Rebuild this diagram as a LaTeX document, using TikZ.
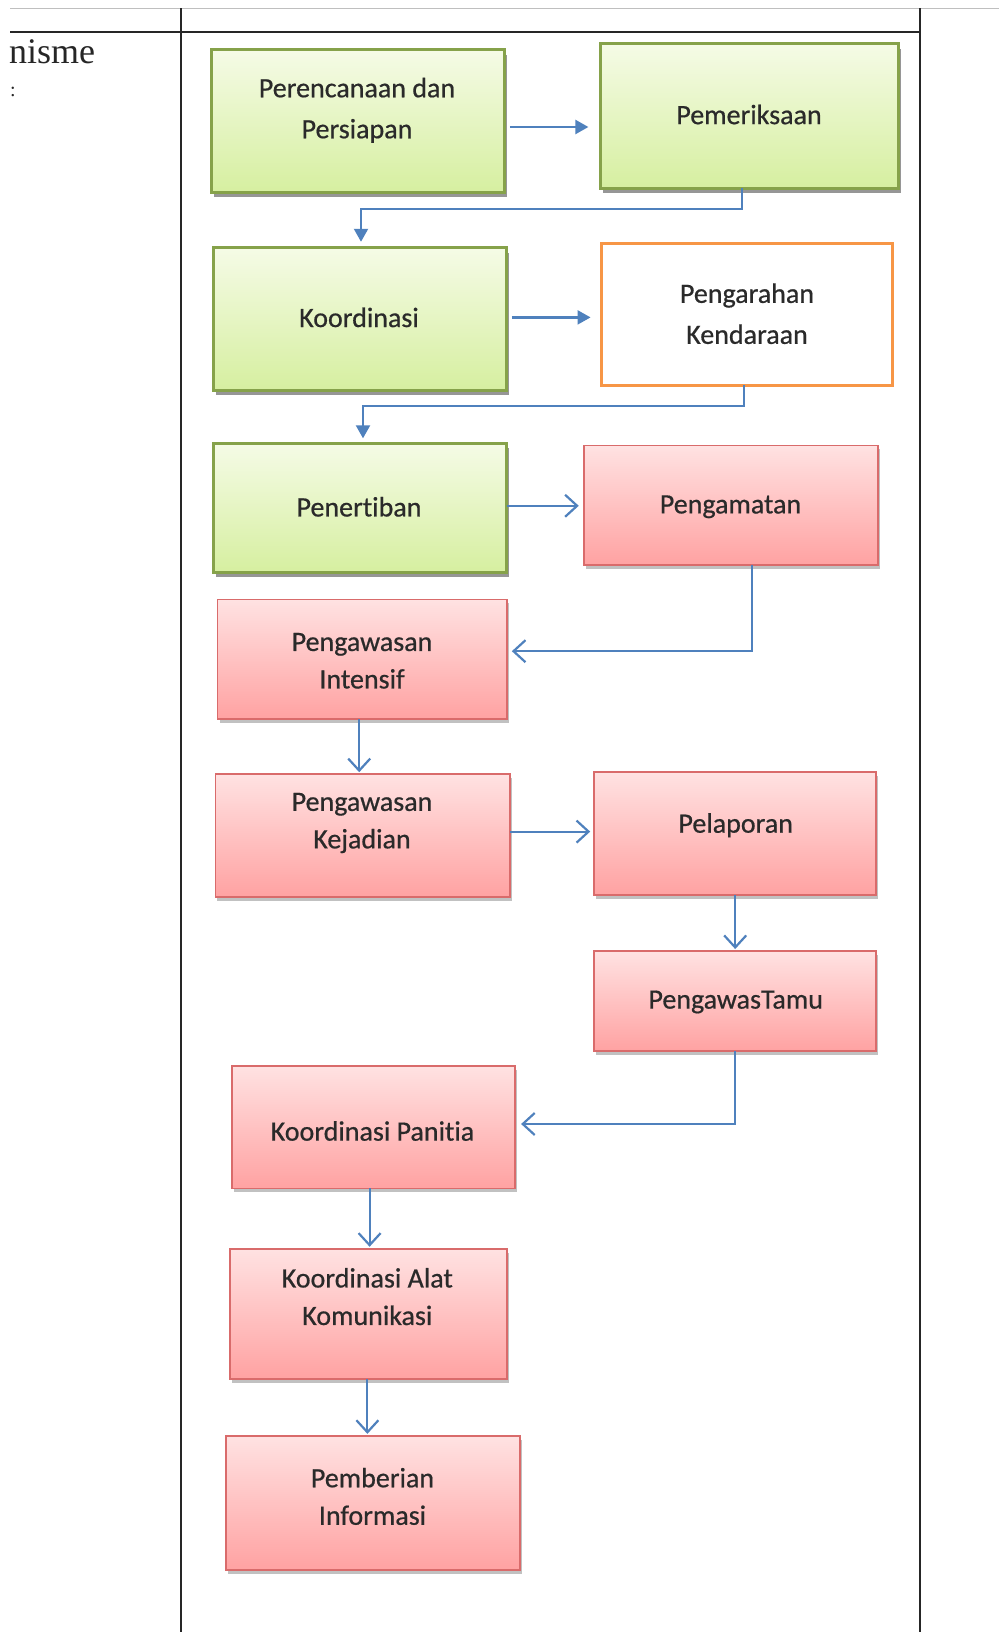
\documentclass[tikz,border=0pt]{standalone}
\usepackage{fontspec}
\setmainfont[Ligatures=NoCommon]{Carlito}
\newfontfamily\lblfont[Ligatures=NoCommon,FakeBold=0.6]{Carlito}
\newfontfamily\serifnm{Liberation Serif}
\usetikzlibrary{arrows.meta,shadows,calc}
\definecolor{lnblue}{HTML}{4F81BD}
\definecolor{grnborder}{HTML}{86A24A}
\definecolor{grntop}{HTML}{F5FBE6}
\definecolor{grnbot}{HTML}{D6EFA0}
\definecolor{redborder}{HTML}{D96B6B}
\definecolor{redtop}{HTML}{FFE2E2}
\definecolor{redbot}{HTML}{FFA2A2}
\definecolor{orgborder}{HTML}{F79646}
\definecolor{txtcol}{HTML}{2A2A2A}
\begin{document}
\begin{tikzpicture}[x=1pt,y=1pt,
  box/.style={inner sep=0pt, outer sep=0pt},
  gbox/.style={box, draw=grnborder, line width=3pt, top color=grntop, bottom color=grnbot,
    drop shadow={shadow xshift=2.5pt, shadow yshift=-5pt, opacity=0.55, fill=black!75}},
  rbox/.style={box, draw=redborder, line width=1.8pt, top color=redtop, bottom color=redbot,
    drop shadow={shadow xshift=2pt, shadow yshift=-4pt, opacity=0.4, fill=black!60}},
  obox/.style={box, draw=orgborder, line width=3pt, fill=white},
  lbl/.style={align=center, text=txtcol, inner sep=0pt, font=\lblfont\fontsize{28}{41}\selectfont},
  lblb/.style={lbl, font=\lblfont\fontsize{28}{37.5}\selectfont},
  farr/.style={draw=lnblue, line width=2.2pt, -{Triangle[length=13pt,width=14pt]}},
  oarr/.style={draw=lnblue, line width=2pt, -{Straight Barb[length=12pt,width=22pt,line width=2.2pt]}},
  tline/.style={line width=1.8pt, draw=black!85}
]
\useasboundingbox (0,0) rectangle (999,-1632);
\fill[white] (0,0) rectangle (999,-1632);

% table lines
\draw[line width=1.6pt, draw=black!25] (10,-8.5) -- (999,-8.5);
\draw[tline] (10,-32) -- (920,-32);
\draw[tline] (181,-8.5) -- (181,-1632);
\draw[tline] (920,-8.5) -- (920,-1632);
\node[anchor=west, inner sep=0pt, font=\serifnm\fontsize{36}{40}\selectfont, text=black!85] (nis) at (9,-52) {nisme};
\node[anchor=west, inner sep=0pt, font=\serifnm\fontsize{20}{22}\selectfont, text=black!85] (col) at (10,-92) {:};

% boxes
\node[gbox, minimum width=293.5pt, minimum height=142.5pt] (b1) at (358,-121) {};
\node[gbox, minimum width=297.6pt, minimum height=144.7pt] (b2) at (749.2,-116) {};
\node[gbox, minimum width=293.5pt, minimum height=142.5pt] (b3) at (360,-319) {};
\node[obox, minimum width=291.3pt, minimum height=141.5pt] (b4) at (747.2,-314.3) {};
\node[gbox, minimum width=293.5pt, minimum height=129pt] (b5) at (360,-507.8) {};
\node[rbox, minimum width=294.5pt, minimum height=119.6pt] (b6) at (731,-505.2) {};
\node[rbox, minimum width=289.3pt, minimum height=119.6pt] (b7) at (362.2,-659.2) {};
\node[rbox, minimum width=294.5pt, minimum height=122.8pt] (b8) at (362.7,-835.6) {};
\node[rbox, minimum width=282pt, minimum height=122.8pt] (b9) at (735.2,-833.5) {};
\node[rbox, minimum width=282pt, minimum height=99.9pt] (b10) at (735.2,-1001) {};
\node[rbox, minimum width=283pt, minimum height=122.8pt] (b11) at (373.6,-1127) {};
\node[rbox, minimum width=276.8pt, minimum height=130.1pt] (b12) at (368.4,-1313.8) {};
\node[rbox, minimum width=294.5pt, minimum height=134.3pt] (b13) at (373,-1503) {};

% labels
\node[lbl] (t1) at (357,-110.3) {Perencanaan dan\\Persiapan};
\node[lbl] (t2) at (749,-114.5) {Pemeriksaan};
\node[lbl] (t3) at (359,-317.4) {Koordinasi};
\node[lbl] (t4) at (747,-313.7) {Pengarahan\\Kendaraan};
\node[lbl] (t5) at (359,-506.8) {Penertiban};
\node[lbl] (t6) at (730.5,-506.8) {Pengamatan};
\node[lblb] (t7) at (362,-660.8) {Pengawasan\\Intensif};
\node[lblb] (t8) at (362,-823) {Pengawasan\\Kejadian};
\node[lbl] (t9) at (735.7,-825.2) {Pelaporan};
\node[lbl] (t10) at (735.7,-1002) {PengawasTamu};
\node[lbl] (t11) at (372.5,-1131) {Koordinasi Panitia};
\node[lblb] (t12) at (367.3,-1296.6) {Koordinasi Alat\\Komunikasi};
\node[lblb] (t13) at (372.5,-1496.4) {Pemberian\\Informasi};

% connectors
\draw[farr] ($(b1.east)+(5,-6)$) -- ($(b1.east -| b2.west)+(-12,-6)$);
\draw[farr] ($(b2.south)+(-7,0)$) -- ++(0,-20.8) -| ($(b3.north)+(1,6)$);
\draw[farr] ($(b3.east)+(5,1.6)$) -- ($(b3.east -| b4.west)+(-11,1.6)$);
\draw[farr] ($(b4.south)+(-3,0)$) -- ++(0,-20.8) -| ($(b5.north)+(3,5)$);
\draw[oarr] ($(b5.east)+(0,2)$) -- ($(b5.east -| b6.west)+(-5,2)$);
\draw[oarr] ($(b6.south)+(21,0)$) |- ($(b7.east)+(5,8)$);
\draw[oarr] ($(b7.south)+(-3,0)$) -- ($(b7.south |- b8.north)+(-3,2)$);
\draw[oarr] ($(b8.east)+(0,4)$) -- ($(b8.east -| b9.west)+(-4,4)$);
\draw[oarr] (b9.south) -- ($(b10.north)+(0,2)$);
\draw[oarr] (b10.south) |- ($(b11.east)+(6,3)$);
\draw[oarr] ($(b11.south)+(-4,0)$) -- ($(b11.south |- b12.north)+(-4,2)$);
\draw[oarr] ($(b12.south)+(-1,0)$) -- ($(b12.south |- b13.north)+(-1,2)$);
\end{tikzpicture}
\end{document}
